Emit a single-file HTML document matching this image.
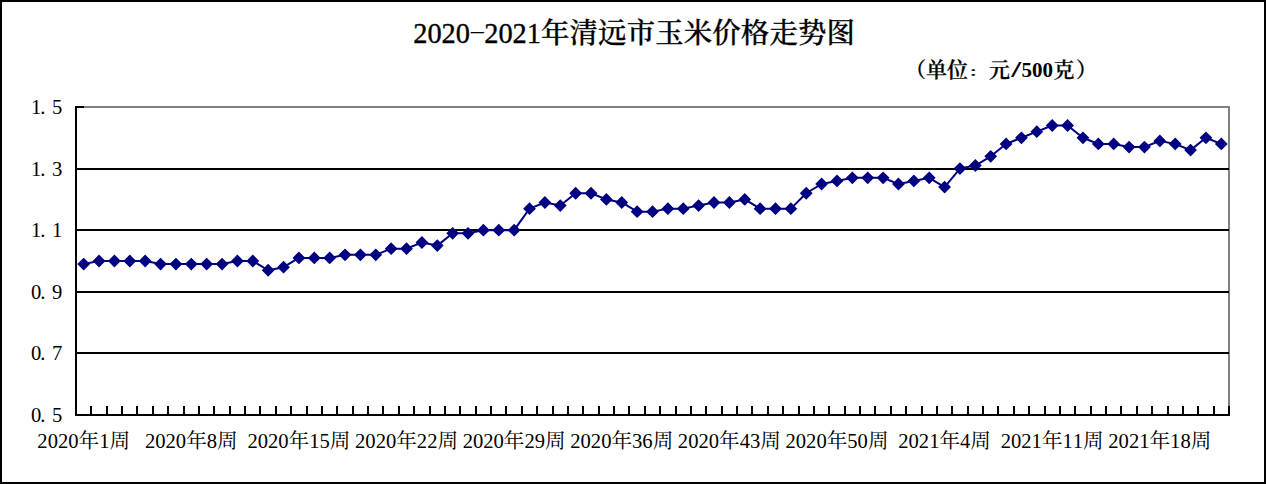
<!DOCTYPE html>
<html><head><meta charset="utf-8"><title>2020-2021年清远市玉米价格走势图</title>
<style>
html,body{margin:0;padding:0;background:#fff;overflow:hidden;}
svg{display:block;}
.td{font-family:"Liberation Serif", "Noto Serif CJK SC", serif;font-size:28.4px;font-weight:400;fill:#000;stroke:#000;stroke-width:0.35px;}
.th{font-family:"Liberation Serif", "Noto Serif CJK SC", serif;font-size:28.4px;font-weight:400;fill:#000;}
.tc{font-family:"Liberation Serif", "Noto Serif CJK SC", serif;font-size:28.4px;font-weight:500;fill:#000;stroke:#000;stroke-width:0.3px;}
.sc{font-family:"Liberation Serif", "Noto Serif CJK SC", serif;font-size:21.0px;font-weight:600;fill:#000;stroke:#000;stroke-width:0.25px;}
.sd{font-family:"Liberation Serif", "Noto Serif CJK SC", serif;font-size:21.0px;font-weight:700;fill:#000;}
.a{font-family:"Liberation Serif", "Noto Serif CJK SC", serif;font-size:20.6px;font-weight:400;fill:#000;}
</style></head><body>
<svg width="1267" height="484" viewBox="0 0 1267 484">
<rect x="1" y="1" width="1264" height="482" fill="#fff" stroke="#000" stroke-width="2"/>
<text class="td" x="413.20 427.40 441.60 455.80" y="42.6">2020</text>
<text class="th" transform="translate(468.7,36.9) scale(1.815,0.66)" x="0" y="0">-</text>
<text class="td" x="484.20 498.40 512.60 526.80" y="42.6">2021</text>
<text class="tc" x="541.00 569.55 598.10 626.65 655.20 683.75 712.30 740.85 769.40 797.95 826.50" y="43">年清远市玉米价格走势图</text>
<text class="sc" x="905.00 926.00 947.00" y="76.5">（单位</text>
<text class="sc" transform="translate(968.00,75.8) scale(1,0.55)" x="0" y="0">：</text>
<text class="sc" x="989.00" y="76.5">元</text>
<text class="sd" transform="translate(1011.20,77.1) scale(1.7,1.12)" x="0" y="0">/</text>
<text class="sd" x="1021.50 1032.00 1042.50" y="76.5">500</text>
<text class="sc" x="1053.60 1076.00" y="76.5">克）</text>
<path d="M76 107 H1229 V415" fill="none" stroke="#808080" stroke-width="2"/>
<line x1="76" y1="169" x2="1229" y2="169" stroke="#000" stroke-width="2"/>
<line x1="76" y1="230" x2="1229" y2="230" stroke="#000" stroke-width="2"/>
<line x1="76" y1="292" x2="1229" y2="292" stroke="#000" stroke-width="2"/>
<line x1="76" y1="353" x2="1229" y2="353" stroke="#000" stroke-width="2"/>
<line x1="76" y1="107" x2="84" y2="107" stroke="#000" stroke-width="2"/>
<line x1="76" y1="106" x2="76" y2="415" stroke="#000" stroke-width="2"/>
<line x1="75" y1="415" x2="1230" y2="415" stroke="#000" stroke-width="2"/>
<path d="M91 406V414M107 406V414M122 406V414M137 406V414M153 406V414M168 406V414M184 406V414M199 406V414M214 406V414M230 406V414M245 406V414M260 406V414M276 406V414M291 406V414M307 406V414M322 406V414M337 406V414M353 406V414M368 406V414M383 406V414M399 406V414M414 406V414M430 406V414M445 406V414M460 406V414M476 406V414M491 406V414M506 406V414M522 406V414M537 406V414M553 406V414M568 406V414M583 406V414M599 406V414M614 406V414M629 406V414M645 406V414M660 406V414M676 406V414M691 406V414M706 406V414M722 406V414M737 406V414M752 406V414M768 406V414M783 406V414M799 406V414M814 406V414M829 406V414M845 406V414M860 406V414M875 406V414M891 406V414M906 406V414M922 406V414M937 406V414M952 406V414M968 406V414M983 406V414M998 406V414M1014 406V414M1029 406V414M1045 406V414M1060 406V414M1075 406V414M1091 406V414M1106 406V414M1121 406V414M1137 406V414M1152 406V414M1168 406V414M1183 406V414M1198 406V414M1214 406V414M1229 406V414" stroke="#000" stroke-width="2" fill="none"/>
<text class="a" x="31.00 40.30 52.00" y="114">1.5</text>
<text class="a" x="31.00 40.30 52.00" y="176">1.3</text>
<text class="a" x="31.00 40.30 52.00" y="237">1.1</text>
<text class="a" x="31.00 40.30 52.00" y="299">0.9</text>
<text class="a" x="31.00 40.30 52.00" y="360">0.7</text>
<text class="a" x="31.00 40.30 52.00" y="422">0.5</text>
<text class="a" x="37.34 47.64 57.94 68.24 78.54 99.14 109.44" y="448">2020年1周</text>
<text class="a" x="144.95 155.25 165.55 175.85 186.15 206.75 217.05" y="448">2020年8周</text>
<text class="a" x="247.41 257.71 268.01 278.31 288.61 309.21 319.51 329.81" y="448">2020年15周</text>
<text class="a" x="355.03 365.33 375.63 385.93 396.23 416.83 427.13 437.43" y="448">2020年22周</text>
<text class="a" x="462.64 472.94 483.24 493.54 503.84 524.44 534.74 545.04" y="448">2020年29周</text>
<text class="a" x="570.25 580.55 590.85 601.15 611.45 632.05 642.35 652.65" y="448">2020年36周</text>
<text class="a" x="677.87 688.17 698.47 708.77 719.07 739.67 749.97 760.27" y="448">2020年43周</text>
<text class="a" x="785.48 795.78 806.08 816.38 826.68 847.28 857.58 867.88" y="448">2020年50周</text>
<text class="a" x="898.24 908.54 918.84 929.14 939.44 960.04 970.34" y="448">2021年4周</text>
<text class="a" x="1000.71 1011.01 1021.31 1031.61 1041.91 1062.51 1072.81 1083.11" y="448">2021年11周</text>
<text class="a" x="1108.32 1118.62 1128.92 1139.22 1149.52 1170.12 1180.42 1190.72" y="448">2021年18周</text>
<path d="M83.69 264.08 L99.06 261.00 L114.43 261.00 L129.81 261.00 L145.18 261.00 L160.55 264.08 L175.93 264.08 L191.30 264.08 L206.67 264.08 L222.05 264.08 L237.42 261.00 L252.79 261.00 L268.17 270.24 L283.54 267.16 L298.91 257.92 L314.29 257.92 L329.66 257.92 L345.03 254.84 L360.41 254.84 L375.78 254.84 L391.15 248.68 L406.53 248.68 L421.90 242.52 L437.27 245.60 L452.65 233.28 L468.02 233.28 L483.39 230.20 L498.77 230.20 L514.14 230.20 L529.51 208.64 L544.89 202.48 L560.26 205.56 L575.63 193.24 L591.01 193.24 L606.38 199.40 L621.75 202.48 L637.13 211.72 L652.50 211.72 L667.87 208.64 L683.25 208.64 L698.62 205.56 L713.99 202.48 L729.37 202.48 L744.74 199.40 L760.11 208.64 L775.49 208.64 L790.86 208.64 L806.23 193.24 L821.61 184.00 L836.98 180.92 L852.35 177.84 L867.73 177.84 L883.10 177.84 L898.47 184.00 L913.85 180.92 L929.22 177.84 L944.59 187.08 L959.97 168.60 L975.34 165.52 L990.71 156.28 L1006.09 143.96 L1021.46 137.80 L1036.83 131.64 L1052.21 125.48 L1067.58 125.48 L1082.95 137.80 L1098.33 143.96 L1113.70 143.96 L1129.07 147.04 L1144.45 147.04 L1159.82 140.88 L1175.19 143.96 L1190.57 150.12 L1205.94 137.80 L1221.31 143.96" fill="none" stroke="#000080" stroke-width="2" stroke-linejoin="round"/>
<path d="M83.69 257.68l6.4 6.4l-6.4 6.4l-6.4 -6.4zM99.06 254.60l6.4 6.4l-6.4 6.4l-6.4 -6.4zM114.43 254.60l6.4 6.4l-6.4 6.4l-6.4 -6.4zM129.81 254.60l6.4 6.4l-6.4 6.4l-6.4 -6.4zM145.18 254.60l6.4 6.4l-6.4 6.4l-6.4 -6.4zM160.55 257.68l6.4 6.4l-6.4 6.4l-6.4 -6.4zM175.93 257.68l6.4 6.4l-6.4 6.4l-6.4 -6.4zM191.30 257.68l6.4 6.4l-6.4 6.4l-6.4 -6.4zM206.67 257.68l6.4 6.4l-6.4 6.4l-6.4 -6.4zM222.05 257.68l6.4 6.4l-6.4 6.4l-6.4 -6.4zM237.42 254.60l6.4 6.4l-6.4 6.4l-6.4 -6.4zM252.79 254.60l6.4 6.4l-6.4 6.4l-6.4 -6.4zM268.17 263.84l6.4 6.4l-6.4 6.4l-6.4 -6.4zM283.54 260.76l6.4 6.4l-6.4 6.4l-6.4 -6.4zM298.91 251.52l6.4 6.4l-6.4 6.4l-6.4 -6.4zM314.29 251.52l6.4 6.4l-6.4 6.4l-6.4 -6.4zM329.66 251.52l6.4 6.4l-6.4 6.4l-6.4 -6.4zM345.03 248.44l6.4 6.4l-6.4 6.4l-6.4 -6.4zM360.41 248.44l6.4 6.4l-6.4 6.4l-6.4 -6.4zM375.78 248.44l6.4 6.4l-6.4 6.4l-6.4 -6.4zM391.15 242.28l6.4 6.4l-6.4 6.4l-6.4 -6.4zM406.53 242.28l6.4 6.4l-6.4 6.4l-6.4 -6.4zM421.90 236.12l6.4 6.4l-6.4 6.4l-6.4 -6.4zM437.27 239.20l6.4 6.4l-6.4 6.4l-6.4 -6.4zM452.65 226.88l6.4 6.4l-6.4 6.4l-6.4 -6.4zM468.02 226.88l6.4 6.4l-6.4 6.4l-6.4 -6.4zM483.39 223.80l6.4 6.4l-6.4 6.4l-6.4 -6.4zM498.77 223.80l6.4 6.4l-6.4 6.4l-6.4 -6.4zM514.14 223.80l6.4 6.4l-6.4 6.4l-6.4 -6.4zM529.51 202.24l6.4 6.4l-6.4 6.4l-6.4 -6.4zM544.89 196.08l6.4 6.4l-6.4 6.4l-6.4 -6.4zM560.26 199.16l6.4 6.4l-6.4 6.4l-6.4 -6.4zM575.63 186.84l6.4 6.4l-6.4 6.4l-6.4 -6.4zM591.01 186.84l6.4 6.4l-6.4 6.4l-6.4 -6.4zM606.38 193.00l6.4 6.4l-6.4 6.4l-6.4 -6.4zM621.75 196.08l6.4 6.4l-6.4 6.4l-6.4 -6.4zM637.13 205.32l6.4 6.4l-6.4 6.4l-6.4 -6.4zM652.50 205.32l6.4 6.4l-6.4 6.4l-6.4 -6.4zM667.87 202.24l6.4 6.4l-6.4 6.4l-6.4 -6.4zM683.25 202.24l6.4 6.4l-6.4 6.4l-6.4 -6.4zM698.62 199.16l6.4 6.4l-6.4 6.4l-6.4 -6.4zM713.99 196.08l6.4 6.4l-6.4 6.4l-6.4 -6.4zM729.37 196.08l6.4 6.4l-6.4 6.4l-6.4 -6.4zM744.74 193.00l6.4 6.4l-6.4 6.4l-6.4 -6.4zM760.11 202.24l6.4 6.4l-6.4 6.4l-6.4 -6.4zM775.49 202.24l6.4 6.4l-6.4 6.4l-6.4 -6.4zM790.86 202.24l6.4 6.4l-6.4 6.4l-6.4 -6.4zM806.23 186.84l6.4 6.4l-6.4 6.4l-6.4 -6.4zM821.61 177.60l6.4 6.4l-6.4 6.4l-6.4 -6.4zM836.98 174.52l6.4 6.4l-6.4 6.4l-6.4 -6.4zM852.35 171.44l6.4 6.4l-6.4 6.4l-6.4 -6.4zM867.73 171.44l6.4 6.4l-6.4 6.4l-6.4 -6.4zM883.10 171.44l6.4 6.4l-6.4 6.4l-6.4 -6.4zM898.47 177.60l6.4 6.4l-6.4 6.4l-6.4 -6.4zM913.85 174.52l6.4 6.4l-6.4 6.4l-6.4 -6.4zM929.22 171.44l6.4 6.4l-6.4 6.4l-6.4 -6.4zM944.59 180.68l6.4 6.4l-6.4 6.4l-6.4 -6.4zM959.97 162.20l6.4 6.4l-6.4 6.4l-6.4 -6.4zM975.34 159.12l6.4 6.4l-6.4 6.4l-6.4 -6.4zM990.71 149.88l6.4 6.4l-6.4 6.4l-6.4 -6.4zM1006.09 137.56l6.4 6.4l-6.4 6.4l-6.4 -6.4zM1021.46 131.40l6.4 6.4l-6.4 6.4l-6.4 -6.4zM1036.83 125.24l6.4 6.4l-6.4 6.4l-6.4 -6.4zM1052.21 119.08l6.4 6.4l-6.4 6.4l-6.4 -6.4zM1067.58 119.08l6.4 6.4l-6.4 6.4l-6.4 -6.4zM1082.95 131.40l6.4 6.4l-6.4 6.4l-6.4 -6.4zM1098.33 137.56l6.4 6.4l-6.4 6.4l-6.4 -6.4zM1113.70 137.56l6.4 6.4l-6.4 6.4l-6.4 -6.4zM1129.07 140.64l6.4 6.4l-6.4 6.4l-6.4 -6.4zM1144.45 140.64l6.4 6.4l-6.4 6.4l-6.4 -6.4zM1159.82 134.48l6.4 6.4l-6.4 6.4l-6.4 -6.4zM1175.19 137.56l6.4 6.4l-6.4 6.4l-6.4 -6.4zM1190.57 143.72l6.4 6.4l-6.4 6.4l-6.4 -6.4zM1205.94 131.40l6.4 6.4l-6.4 6.4l-6.4 -6.4zM1221.31 137.56l6.4 6.4l-6.4 6.4l-6.4 -6.4z" fill="#000080"/>
</svg>
</body></html>
